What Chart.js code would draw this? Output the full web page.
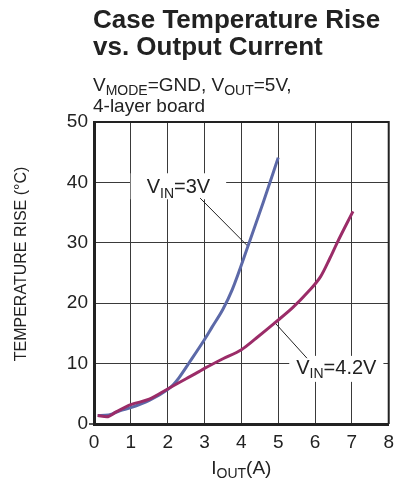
<!DOCTYPE html>
<html>
<head>
<meta charset="utf-8">
<script src="https://cdn.jsdelivr.net/npm/chart.js@4"></script>
<style>
  html, body { margin: 0; padding: 0; background: #fff; }
  #wrap { width: 401px; height: 485px; }
</style>
</head>
<body>
<div id="wrap"><canvas id="chart" width="401" height="485"></canvas></div>
<script>
// VIN = 3V curve
const current3V = [0.1, 0.4, 0.7, 1, 1.5, 2, 2.15, 2.3, 2.6, 3, 3.2, 3.5, 3.75, 4.2, 4.6, 5];
const temp3V    = [1.4, 1.5, 2.2, 2.7, 3.9, 5.7, 6.5, 7.6, 10.3, 14.0, 16.0, 19.0, 22.2, 29.8, 36.8, 44.1];

// VIN = 4.2V curve
const current42 = [0.1, 0.35, 0.6, 1, 1.5, 2, 2.5, 2.8, 3, 3.5, 4, 4.4, 4.9, 5.4, 5.8, 6.15, 6.4, 6.6, 7.03];
const temp42    = [1.4, 1.2, 2.0, 3.2, 4.1, 5.8, 7.5, 8.5, 9.2, 10.8, 12.3, 14.2, 16.7, 19.3, 21.8, 24.4, 27.4, 30.0, 35.2];

const xTicks = [0, 1, 2, 3, 4, 5, 6, 7, 8];
const yTicks = [0, 10, 20, 30, 40, 50];

const FONT = "Arial, 'Liberation Sans', sans-serif";

function pts(xs, ys) {
  return xs.map((x, i) => ({ x: x, y: ys[i] }));
}

// draw text runs, some of them as subscripts
function subText(ctx, x, y, parts, size) {
  parts.forEach(p => {
    if (p.sub) {
      ctx.font = Math.round(size * 0.72) + "px " + FONT;
      ctx.fillText(p.t, x, y + size * 0.22);
    } else {
      ctx.font = size + "px " + FONT;
      ctx.fillText(p.t, x, y);
    }
    x += ctx.measureText(p.t).width;
  });
  return x;
}

function measureSub(ctx, parts, size) {
  let w = 0;
  parts.forEach(p => {
    ctx.font = (p.sub ? Math.round(size * 0.72) : size) + "px " + FONT;
    w += ctx.measureText(p.t).width;
  });
  return w;
}

const textPlugin = {
  id: "texts",
  beforeDatasetsDraw(chart) {
    const ctx = chart.ctx;
    const xs = chart.scales.x, ys = chart.scales.y;
    const ca = chart.chartArea;
    ctx.save();
    // frame top/right
    ctx.strokeStyle = "#222";
    ctx.lineWidth = 2;
    ctx.beginPath();
    ctx.moveTo(ca.left, ca.top);
    ctx.lineTo(ca.right, ca.top);
    ctx.lineTo(ca.right, ca.bottom);
    ctx.stroke();
    // small tick at y=0 left
    ctx.lineWidth = 1.5;
    ctx.beginPath();
    ctx.moveTo(ca.left - 5, ys.getPixelForValue(0));
    ctx.lineTo(ca.left, ys.getPixelForValue(0));
    ctx.stroke();

    // curve labels on white boxes
    ctx.textBaseline = "alphabetic";
    const lab1 = [{ t: "V" }, { t: "IN", sub: true }, { t: "=3V" }];
    const lab2 = [{ t: "V" }, { t: "IN", sub: true }, { t: "=4.2V" }];
    const size = 20;

    const l1x = xs.getPixelForValue(1.43), l1y = ys.getPixelForValue(38.2);
    const l2x = xs.getPixelForValue(5.49), l2y = ys.getPixelForValue(8.3);

    ctx.fillStyle = "#fff";
    const w1 = measureSub(ctx, lab1, size);
    ctx.fillRect(l1x - 16, l1y - 20, w1 + 32, 26);
    const w2 = measureSub(ctx, lab2, size);
    ctx.fillRect(l2x - 7, l2y - 18, w2 + 14, 26);

    ctx.fillStyle = "#222";
    subText(ctx, l1x, l1y, lab1, size);
    subText(ctx, l2x, l2y, lab2, size);

    // leader lines
    ctx.strokeStyle = "#222";
    ctx.lineWidth = 1;
    ctx.beginPath();
    ctx.moveTo(xs.getPixelForValue(2.88), ys.getPixelForValue(37.4));
    ctx.lineTo(xs.getPixelForValue(4.19), ys.getPixelForValue(29.35));
    ctx.moveTo(xs.getPixelForValue(5.78), ys.getPixelForValue(10.9));
    ctx.lineTo(xs.getPixelForValue(4.89), ys.getPixelForValue(16.9));
    ctx.stroke();
    ctx.restore();
  },
  afterDraw(chart) {
    const ctx = chart.ctx;
    const ca = chart.chartArea;
    ctx.save();
    ctx.fillStyle = "#222";
    ctx.textAlign = "left";
    ctx.textBaseline = "alphabetic";
    // title
    ctx.font = "bold 26px " + FONT;
    ctx.fillText("Case Temperature Rise", 93, 28);
    ctx.fillText("vs. Output Current", 93, 55);
    // subtitle
    subText(ctx, 93, 91, [{ t: "V" }, { t: "MODE", sub: true }, { t: "=GND, V" }, { t: "OUT", sub: true }, { t: "=5V," }], 19);
    ctx.font = "19px " + FONT;
    ctx.fillText("4-layer board", 93, 112);

    // x title
    const xt = [{ t: "I" }, { t: "OUT", sub: true }, { t: "(A)" }];
    const xw = measureSub(ctx, xt, 19);
    subText(ctx, (ca.left + ca.right) / 2 - xw / 2, 474, xt, 19);

    // y title
    ctx.translate(26, 264);
    ctx.rotate(-Math.PI / 2);
    ctx.textAlign = "center";
    ctx.font = "16px " + FONT;
    ctx.fillText("TEMPERATURE RISE (°C)", 0, 0);
    ctx.restore();
  }
};

new Chart(document.getElementById("chart"), {
  type: "scatter",
  data: {
    datasets: [
      {
        label: "VIN=4.2V",
        data: pts(current42, temp42),
        showLine: true,
        borderColor: "#9b2c68",
        borderWidth: 3,
        pointRadius: 0,
        cubicInterpolationMode: "monotone"
      },
      {
        label: "VIN=3V",
        data: pts(current3V, temp3V),
        showLine: true,
        borderColor: "#5c69a8",
        borderWidth: 3,
        pointRadius: 0,
        cubicInterpolationMode: "monotone"
      }
    ]
  },
  options: {
    responsive: false,
    animation: false,
    layout: { padding: { top: 122, right: 4, left: 0, bottom: 0 } },
    plugins: { legend: { display: false }, tooltip: { enabled: false }, title: { display: false } },
    scales: {
      x: {
        type: "linear",
        min: 0, max: 8,
        afterBuildTicks: s => { s.ticks = xTicks.map(v => ({ value: v })); },
        afterFit: s => { s.height = 61; },
        grid: { color: "#3a3a3a", lineWidth: 1, drawTicks: false },
        border: { color: "#222", width: 3 },
        ticks: { color: "#222", padding: 7, font: { family: FONT, size: 19 } }
      },
      y: {
        min: 0, max: 50,
        afterBuildTicks: s => { s.ticks = yTicks.map(v => ({ value: v })); },
        afterFit: s => { s.width = 94; },
        grid: { color: "#3a3a3a", lineWidth: 1, drawTicks: false },
        border: { color: "#222", width: 3 },
        ticks: { color: "#222", padding: 6, font: { family: FONT, size: 19 } }
      }
    }
  },
  plugins: [textPlugin]
});
</script>
</body>
</html>
